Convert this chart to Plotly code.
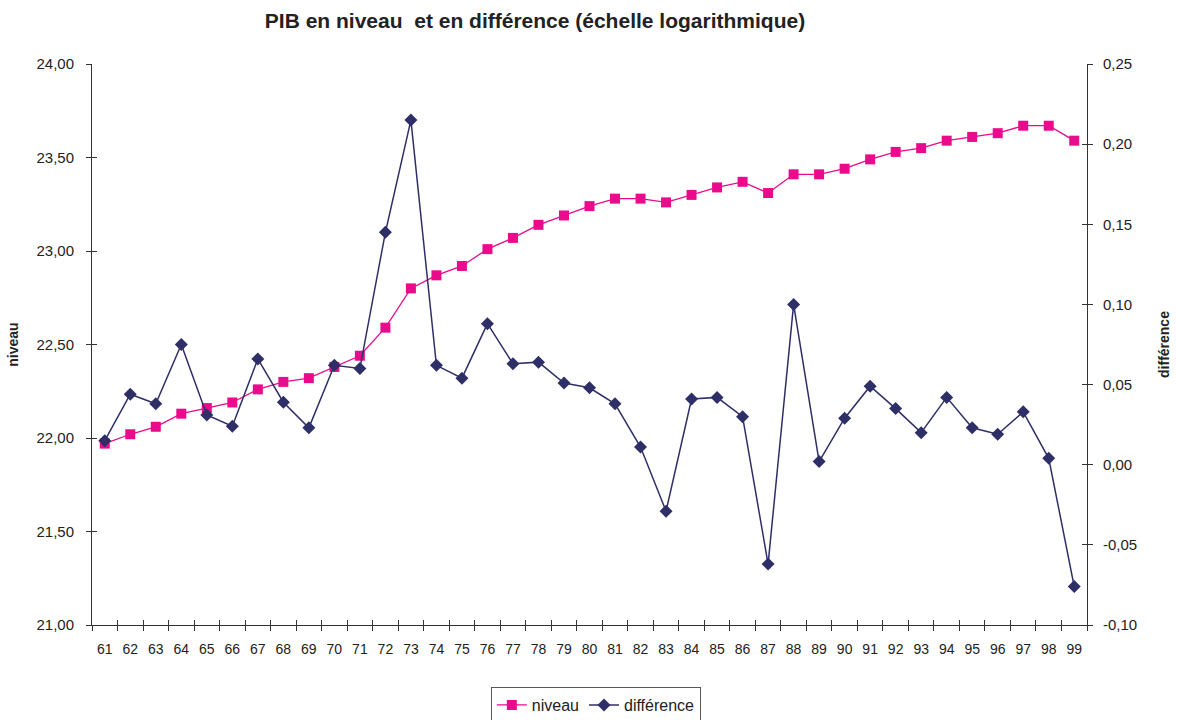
import plotly.graph_objects as go

# Années (deux derniers chiffres)
annees = [str(a) for a in range(61, 100)]

# PIB en niveau (log)
niveau = [21.97, 22.02, 22.06, 22.13, 22.16, 22.19, 22.26, 22.30, 22.32, 22.38,
          22.44, 22.59, 22.80, 22.87, 22.92, 23.01, 23.07, 23.14, 23.19, 23.24,
          23.28, 23.28, 23.26, 23.30, 23.34, 23.37, 23.31, 23.41, 23.41, 23.44,
          23.49, 23.53, 23.55, 23.59, 23.61, 23.63, 23.67, 23.67, 23.59]

# Différence première du log
difference = [0.015, 0.044, 0.038, 0.075, 0.031, 0.024, 0.066, 0.039, 0.023, 0.062,
              0.060, 0.145, 0.215, 0.062, 0.054, 0.088, 0.063, 0.064, 0.051, 0.048,
              0.038, 0.011, -0.029, 0.041, 0.042, 0.030, -0.062, 0.100, 0.002, 0.029,
              0.049, 0.035, 0.020, 0.042, 0.023, 0.019, 0.033, 0.004, -0.076]

niveau_ticks = [21.0, 21.5, 22.0, 22.5, 23.0, 23.5, 24.0]
diff_ticks = [-0.10, -0.05, 0.00, 0.05, 0.10, 0.15, 0.20, 0.25]

PINK = "#EA0A8C"
NAVY = "#2F2F68"
AXIS = "#333333"
TEXT = "#222222"
FONT = "Liberation Sans, Arial, sans-serif"

W, H = 1177, 720
M = dict(l=92, r=90, t=64, b=95)
PLOT_H = H - M["t"] - M["b"]

fig = go.Figure()

fig.add_trace(go.Scatter(
    x=annees, y=niveau, name="niveau", mode="lines+markers",
    line=dict(color=PINK, width=1.3),
    marker=dict(symbol="square", size=10, color=PINK),
    yaxis="y",
))
fig.add_trace(go.Scatter(
    x=annees, y=difference, name="différence", mode="lines+markers",
    line=dict(color=NAVY, width=1.5),
    marker=dict(symbol="diamond", size=10, color=NAVY),
    yaxis="y2",
))

# traces invisibles qui portent les axes superposés (graduations intérieures)
fig.add_trace(go.Scatter(x=annees, y=niveau, xaxis="x2", yaxis="y3", mode="lines",
                         line=dict(width=0), hoverinfo="skip", showlegend=False, opacity=0))
fig.add_trace(go.Scatter(x=annees, y=difference, xaxis="x2", yaxis="y4", mode="lines",
                         line=dict(width=0), hoverinfo="skip", showlegend=False, opacity=0))


def fmt(v):
    return f"{v:.2f}".replace(".", ",")


common = dict(showgrid=False, zeroline=False, showline=True, linecolor=AXIS,
              linewidth=1, ticks="outside", ticklen=5, tickcolor=AXIS,
              tickfont=dict(family=FONT, size=15, color=TEXT))

inner = dict(showticklabels=False, showgrid=False, zeroline=False, showline=False,
             ticks="inside", ticklen=5, tickcolor=AXIS)

fig.update_layout(
    width=W, height=H,
    margin=dict(**M, autoexpand=False),
    paper_bgcolor="white", plot_bgcolor="white",
    font=dict(family=FONT, size=14, color=TEXT),
    title=dict(text="<b>PIB en niveau &nbsp;et en différence (échelle logarithmique)</b>",
               x=535 / W, xanchor="center", y=1 - 21 / H, yanchor="middle",
               font=dict(family=FONT, size=21, color=TEXT)),
    xaxis=dict(type="category", categoryorder="array", categoryarray=annees,
               tickson="boundaries", range=[-0.5, len(annees) - 0.5],
               ticklabelstandoff=11, tickangle=0,
               **{**common, "tickfont": dict(family=FONT, size=14, color=TEXT)}),
    yaxis=dict(range=[21, 24], tickvals=niveau_ticks,
               ticktext=[fmt(v) for v in niveau_ticks], ticklabelstandoff=9,
               title=dict(text="<b>niveau</b>", font=dict(size=14), standoff=14),
               **common),
    yaxis2=dict(range=[-0.10, 0.25], tickvals=diff_ticks,
                ticktext=[fmt(v) for v in diff_ticks], ticklabelstandoff=7,
                overlaying="y", side="right",
                title=dict(text="<b>différence</b>", font=dict(size=14), standoff=22),
                **common),
    xaxis2=dict(type="category", categoryorder="array", categoryarray=annees,
                tickson="boundaries", matches="x", overlaying="x", anchor="y", **inner),
    yaxis3=dict(matches="y", overlaying="y", anchor="x", side="left",
                tickvals=niveau_ticks, **inner),
    yaxis4=dict(matches="y2", overlaying="y", anchor="x", side="right",
                tickvals=diff_ticks, **inner),
    legend=dict(orientation="h", x=596 / W, xanchor="center",
                y=-80 / PLOT_H, yanchor="middle",
                bordercolor="#555555", borderwidth=1, bgcolor="white",
                font=dict(family=FONT, size=16, color=TEXT)),
    showlegend=True,
)

fig.write_html("out.html")
